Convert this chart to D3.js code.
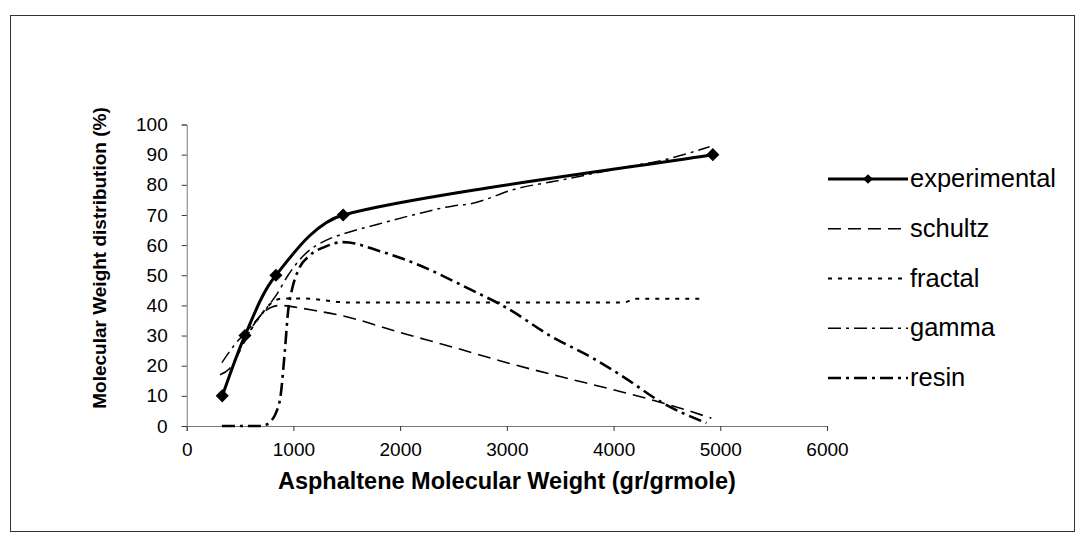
<!DOCTYPE html>
<html>
<head>
<meta charset="utf-8">
<script src="https://cdn.jsdelivr.net/npm/d3@7"></script>
<style>
  body { margin: 0; background: #fff; }
  text { font-family: "Liberation Sans", Arial, sans-serif; fill: #000; }
</style>
</head>
<body>
<div class="chart"></div>
<script>
var xTicks = [0, 1000, 2000, 3000, 4000, 5000, 6000];
var yTicks = [0, 10, 20, 30, 40, 50, 60, 70, 80, 90, 100];
var seriesNames = ["experimental", "schultz", "fractal", "gamma", "resin"];

var experimentalX = [333, 546, 836, 1466, 4930];
var experimentalY = [10, 30, 50, 70, 90];

var schultzX = [312, 400, 500, 600, 700, 800, 880, 1000, 1200, 1466, 2000, 2470, 3000, 3500, 4000, 4525, 4916];
var schultzY = [17, 19, 25, 32, 37, 39.5, 40, 39.5, 38.3, 36.5, 31, 26.4, 21, 16.4, 12, 7, 2.6];

var fractalX = [550, 700, 800, 900, 1100, 1500, 2000, 2500, 3000, 3500, 4100, 4200, 4500, 4853];
var fractalY = [29, 37, 41, 42.3, 42.3, 41, 41, 41, 41, 41, 41, 42.2, 42.2, 42.2];

var gammaX = [330, 450, 550, 700, 850, 950, 1062, 1140, 1300, 1466, 1800, 2154, 2498, 2657, 3090, 3500, 4025, 4500, 4900];
var gammaY = [21, 27, 31, 37, 44, 50, 55.3, 58, 61.5, 63.7, 67, 70.3, 73, 73.7, 78.7, 81.5, 85.3, 88.5, 92.6];

var resinX = [330, 500, 700, 770, 870, 920, 950, 985, 1050, 1150, 1300, 1466, 1811, 2154, 2657, 2997, 3403, 3806, 4088, 4462, 4870];
var resinY = [0, 0, 0, 1, 8, 25, 38, 45, 52, 56.5, 59.5, 61, 58, 53.7, 45.3, 39.2, 30, 22.5, 16.4, 7.6, 1];

var svgW = 1083;
var svgH = 544;
var margin = { top: 124.5, left: 186.7 };
var w = 827 - 186.7;
var h = 426 - 124.5;

var svg = d3.select(".chart")
    .append("svg")
    .attr("width", svgW)
    .attr("height", svgH);

// outer chart frame
svg.append("rect")
    .attr("x", 10.5)
    .attr("y", 15.5)
    .attr("width", 1064)
    .attr("height", 516)
    .attr("fill", "none")
    .attr("stroke", "#333")
    .attr("stroke-width", 1);

var chrt = svg.append("g")
    .attr("transform", "translate(" + margin.left + "," + margin.top + ")");

var xLS = d3.scaleLinear().domain([0, 6000]).range([0, w]);
var yLS = d3.scaleLinear().domain([0, 100]).range([h, 0]);

var bAxis = d3.axisBottom(xLS).tickValues(xTicks).tickSize(5).tickPadding(12).tickFormat(d3.format("d"));
var lAxis = d3.axisLeft(yLS).tickValues(yTicks).tickSize(5).tickPadding(14).tickFormat(d3.format("d"));

var gx = chrt.append("g")
    .attr("transform", "translate(0," + h + ")")
    .call(bAxis);
var gy = chrt.append("g").call(lAxis);

[gx, gy].forEach(function(g) {
    g.select(".domain").attr("stroke", "#777");
    g.selectAll(".tick line").attr("stroke", "#333");
    g.selectAll(".tick text")
        .style("font-size", "19px")
        .style("font-family", "'Liberation Sans', Arial, sans-serif")
        .attr("fill", "#000");
});

function pairs(xs, ys) {
    return xs.map(function(x, i) { return [x, ys[i]]; });
}

// model curves: monotone so the steep resin step does not overshoot
var smoothModel = d3.line()
    .x(function(d) { return xLS(d[0]); })
    .y(function(d) { return yLS(d[1]); })
    .curve(d3.curveMonotoneX);

// spreadsheet-like smoothing: bezier handles = (next - prev) / 6,
// but never longer than a third of the segment they sit on
function smoothPath(data) {
    var pts = data.map(function(d) { return [xLS(d[0]), yLS(d[1])]; });
    var n = pts.length;
    var p = d3.path();
    p.moveTo(pts[0][0], pts[0][1]);
    function handle(i, seg) {
        var a = pts[Math.max(i - 1, 0)];
        var b = pts[Math.min(i + 1, n - 1)];
        var tx = (b[0] - a[0]) / 6;
        var ty = (b[1] - a[1]) / 6;
        var len = Math.sqrt(tx * tx + ty * ty);
        var max = seg / 3;
        if (len > max) {
            tx = tx * max / len;
            ty = ty * max / len;
        }
        return [tx, ty];
    }
    for (var i = 0; i < n - 1; i++) {
        var p0 = pts[i];
        var p1 = pts[i + 1];
        var seg = Math.sqrt(Math.pow(p1[0] - p0[0], 2) + Math.pow(p1[1] - p0[1], 2));
        var h0 = handle(i, seg);
        var h1 = handle(i + 1, seg);
        p.bezierCurveTo(p0[0] + h0[0], p0[1] + h0[1], p1[0] - h1[0], p1[1] - h1[1], p1[0], p1[1]);
    }
    return p.toString();
}

var styles = {
    experimental: { width: 3, dash: null },
    schultz: { width: 1.6, dash: "13,7" },
    fractal: { width: 2, dash: "4,6" },
    gamma: { width: 1.5, dash: "13,5,3,5" },
    resin: { width: 2.6, dash: "13,5,3,5" }
};

var seriesData = {
    schultz: pairs(schultzX, schultzY),
    fractal: pairs(fractalX, fractalY),
    gamma: pairs(gammaX, gammaY),
    resin: pairs(resinX, resinY)
};

["resin", "gamma", "fractal", "schultz"].forEach(function(name) {
    chrt.append("path")
        .datum(seriesData[name])
        .attr("d", smoothModel)
        .attr("fill", "none")
        .attr("stroke", "#000")
        .attr("stroke-width", styles[name].width)
        .attr("stroke-dasharray", styles[name].dash);
});

var expData = pairs(experimentalX, experimentalY);
chrt.append("path")
    .datum(expData)
    .attr("d", smoothPath)
    .attr("fill", "none")
    .attr("stroke", "#000")
    .attr("stroke-width", 3);

var diamond = d3.symbol().type(d3.symbolDiamond2).size(110);

chrt.selectAll(".marker")
    .data(expData)
    .enter()
    .append("path")
    .attr("class", "marker")
    .attr("d", diamond)
    .attr("transform", function(d) { return "translate(" + xLS(d[0]) + "," + yLS(d[1]) + ")"; })
    .attr("fill", "#000");

// axis titles
svg.append("text")
    .attr("x", margin.left + w / 2)
    .attr("y", 489)
    .attr("text-anchor", "middle")
    .style("font-size", "23.5px")
    .style("font-weight", "bold")
    .text("Asphaltene Molecular Weight (gr/grmole)");

svg.append("text")
    .attr("transform", "translate(106,258) rotate(-90)")
    .attr("text-anchor", "middle")
    .style("font-size", "19px")
    .style("font-weight", "bold")
    .text("Molecular Weight distribution (%)");

// legend
var legend = svg.append("g");
var legY = d3.scalePoint().domain(seriesNames).range([179, 378]);

seriesNames.forEach(function(name) {
    var yy = legY(name);
    legend.append("line")
        .attr("x1", 828)
        .attr("x2", 908)
        .attr("y1", yy)
        .attr("y2", yy)
        .attr("stroke", "#000")
        .attr("stroke-width", styles[name].width)
        .attr("stroke-dasharray", styles[name].dash);
    if (name === "experimental") {
        legend.append("path")
            .attr("d", d3.symbol().type(d3.symbolDiamond2).size(60))
            .attr("transform", "translate(868," + yy + ")")
            .attr("fill", "#000");
    }
    legend.append("text")
        .attr("x", 910)
        .attr("y", yy + 8)
        .style("font-size", "25.5px")
        .text(name);
});
</script>
</body>
</html>
